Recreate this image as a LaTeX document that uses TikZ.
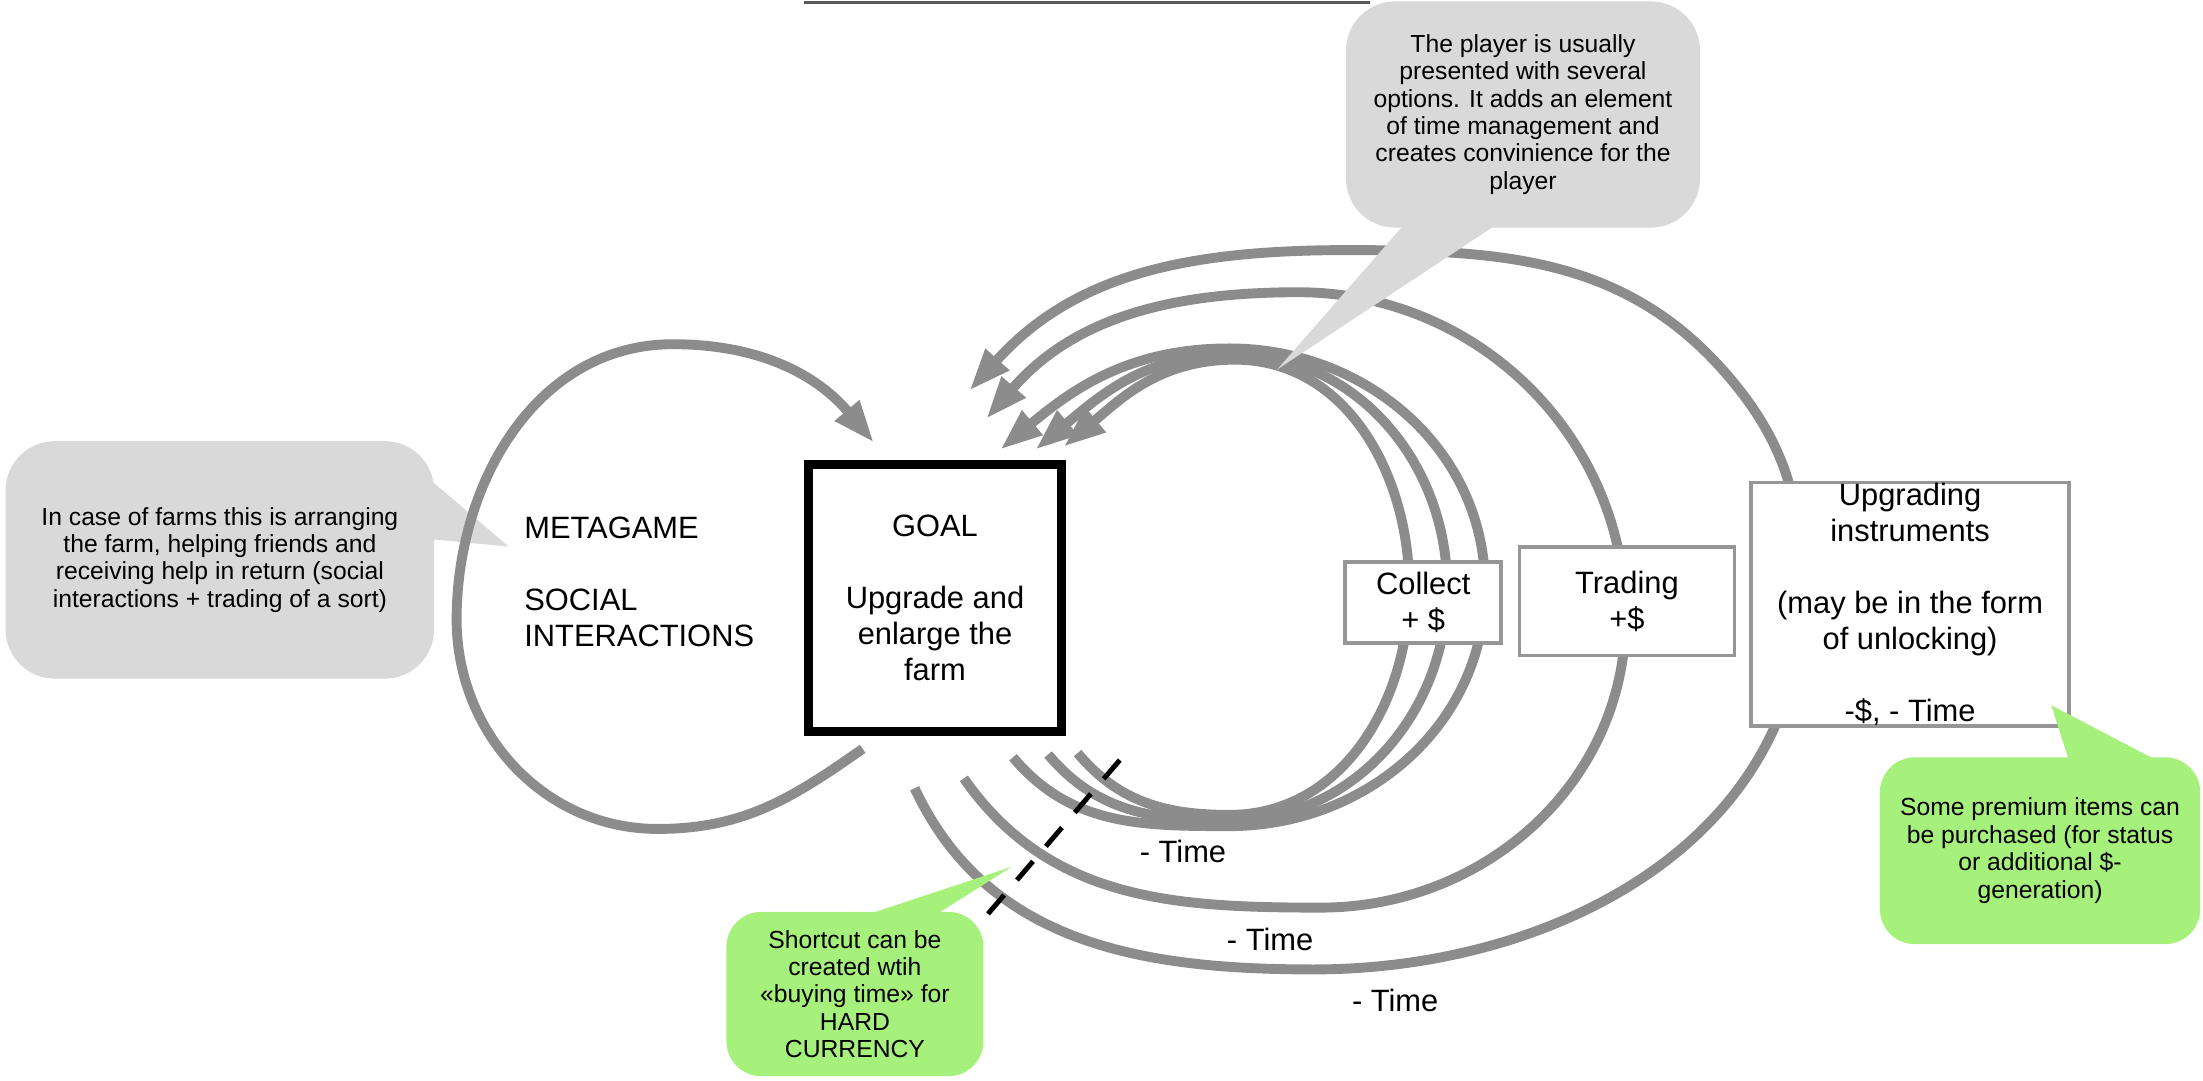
\documentclass[tikz,border=0pt]{standalone}
\usepackage{fontspec}
\setmainfont{Liberation Sans}
\usepackage{tikz}
\usetikzlibrary{arrows.meta}

\definecolor{LoopGray}{RGB}{140,140,140}
\definecolor{BoxGray}{RGB}{150,150,150}
\definecolor{NoteGray}{RGB}{217,217,217}
\definecolor{NoteGreen}{RGB}{166,240,124}
\newcommand{\LabelFont}{\fontsize{12.5}{14.6}\selectfont}
\newcommand{\NoteFont}{\fontsize{10}{11.1}\selectfont}

\begin{document}
\begin{tikzpicture}[x=0.2mm,y=0.2mm]
  \tikzset{BoxStyle/.style = {
    shape         = rectangle,
    draw          = BoxGray,
    fill          = white,
    line width    = 1.5pt,
    text          = black,
    inner sep     = 0pt,
    align         = center,
    font          = \LabelFont
    }
  }
  \tikzset{GoalStyle/.style = {
    BoxStyle,
    draw          = black,
    line width    = 3.8pt
    }
  }
  \tikzset{NoteStyle/.style = {
    shape           = rectangle,
    rounded corners = 7mm,
    fill            = NoteGray,
    text            = black,
    inner sep       = 0pt,
    align           = center,
    font            = \NoteFont
    }
  }
  \tikzset{NoteStyle2/.style = {
    NoteStyle,
    rounded corners = 5mm,
    fill            = NoteGreen
    }
  }
  \tikzset{LoopStyle/.style = {
    draw          = LoopGray,
    line width    = 4pt
    }
  }
  \tikzset{LoopStyleArrow/.style = {
    LoopStyle,
    -{Triangle[length=17pt,width=12pt]}
    }
  }
  \tikzset{CutStyle/.style = {
    draw          = black,
    line width    = 2pt,
    dash pattern  = on 10pt off 8pt
    }
  }

  \useasboundingbox (0,0) rectangle (1568,-769);

  % points of the loops
	\coordinate (m0) at (614,-533);
	\coordinate (m1) at (468,-590);
	\coordinate (m2) at (325,-441);
	\coordinate (m3) at (479,-245);
	\coordinate (m4) at (622,-315);
	\coordinate (c10) at (721,-539);
	\coordinate (c11) at (875,-588);
	\coordinate (c12) at (1057,-418);
	\coordinate (c13) at (875,-248);
	\coordinate (c14) at (712,-320);
	\coordinate (c20) at (746,-537);
	\coordinate (c21) at (875,-584);
	\coordinate (c22) at (1030,-418);
	\coordinate (c23) at (877,-252);
	\coordinate (c24) at (737,-320);
	\coordinate (c30) at (767,-536);
	\coordinate (c31) at (875,-580);
	\coordinate (c32) at (1003,-418);
	\coordinate (c33) at (879,-256);
	\coordinate (c34) at (757,-318);
	\coordinate (t0) at (686,-554);
	\coordinate (t1) at (940,-646);
	\coordinate (t2) at (1157,-440);
	\coordinate (t3) at (924,-208);
	\coordinate (t4) at (702,-298);
	\coordinate (u0) at (651,-561);
	\coordinate (u1) at (935,-690);
	\coordinate (u2) at (1283,-430);
	\coordinate (u3) at (1232,-270);
	\coordinate (u4) at (960,-178);
	\coordinate (u5) at (690,-278);

  % line at the top
	\coordinate (h0) at (572,-2);
	\coordinate (h1) at (975,-2);
	\draw[draw=black!65, line width=1.3pt](h0) -- (h1);

  % left note
	\node[NoteStyle, minimum width=61mm, minimum height=33.8mm](NoteL) at (156.5,-398.5) {In case of farms this is arranging\\the farm, helping friends and\\receiving help in return (social\\interactions + trading of a sort)};
	\coordinate (nl0) at (295,-332);
	\coordinate (nl1) at (298,-383);
	\coordinate (nl2) at (362,-389);
	\fill[NoteGray](nl0) -- (nl2) -- (nl1) -- cycle;

  % loops
	\draw[LoopStyleArrow](m0) to[out=215,in=0] (m1) to[out=180,in=-90] (m2) to[out=90,in=180] (m3) to[out=0,in=130] (m4);
	\draw[LoopStyleArrow](c10) to[out=-50,in=180] (c11) to[out=0,in=-90] (c12) to[out=90,in=0] (c13) to[out=180,in=40] (c14);
	\draw[LoopStyleArrow](c20) to[out=-50,in=180] (c21) to[out=0,in=-90] (c22) to[out=90,in=0] (c23) to[out=180,in=40] (c24);
	\draw[LoopStyleArrow](c30) to[out=-50,in=180] (c31) to[out=0,in=-90] (c32) to[out=90,in=0] (c33) to[out=180,in=40] (c34);
	\draw[LoopStyleArrow](t0) to[out=-55,in=180] (t1) to[out=0,in=-90] (t2) to[out=90,in=0] (t3) to[out=180,in=49] (t4);
	\draw[LoopStyleArrow](u0) to[out=-65,in=180] (u1) to[out=0,in=-92] (u2) to[out=90,in=-50] (u3) to[out=130,in=0] (u4) to[out=180,in=48] (u5);

  % boxes
	\node[GoalStyle, minimum width=36mm, minimum height=38mm](Goal1) at (665.5,-425.5) {GOAL\\[14.6pt]Upgrade and\\enlarge the\\farm};
	\node[BoxStyle, minimum width=22.2mm, minimum height=11.5mm](Coll1) at (1013,-429) {Collect\\+ \$};
	\node[BoxStyle, minimum width=30.6mm, minimum height=15.4mm](Trad1) at (1158,-428) {Trading\\+\$};
	\node[BoxStyle, minimum width=45.2mm, minimum height=34.6mm](Upgr1) at (1359.5,-430) {Upgrading\\instruments\\[14.6pt](may be in the form\\of unlocking)\\[14.6pt]-\$, - Time};
	\node[font=\LabelFont, align=left, anchor=west](Meta1) at (367,-414) {METAGAME\\[14.6pt]SOCIAL\\INTERACTIONS};

  % time labels
	\node[font=\LabelFont](Time1) at (842,-606) {- Time};
	\node[font=\LabelFont](Time2) at (904,-669) {- Time};
	\node[font=\LabelFont](Time3) at (993,-712) {- Time};

  % shortcut
	\coordinate (d0) at (797,-541);
	\coordinate (d1) at (701,-653);
	\draw[CutStyle](d0) -- (d1);

  % top note
	\node[NoteStyle, minimum width=50.4mm, minimum height=32.2mm](NoteT) at (1084,-81.5) {The player is usually\\presented with several\\options. It adds an element\\of time management and\\creates convinience for the\\player};
	\coordinate (nt0) at (1008,-150);
	\coordinate (nt1) at (1080,-150);
	\coordinate (nt2) at (909,-263);
	\fill[NoteGray](nt0) -- (nt2) -- (nt1) -- cycle;

  % green notes
	\node[NoteStyle2, minimum width=36.6mm, minimum height=23.4mm](NoteB) at (608.5,-707.5) {Shortcut can be\\created wtih\\«buying time» for\\HARD\\CURRENCY};
	\coordinate (nb0) at (596,-658);
	\coordinate (nb1) at (655,-658);
	\coordinate (nb2) at (720,-617);
	\fill[NoteGreen](nb0) -- (nb2) -- (nb1) -- cycle;
	\node[NoteStyle2, minimum width=45.6mm, minimum height=26.6mm](NoteR) at (1452,-605.5) {Some premium items can\\be purchased (for status\\or additional \$-\\generation)};
	\coordinate (nr0) at (1475,-549);
	\coordinate (nr1) at (1550,-549);
	\coordinate (nr2) at (1460,-502);
	\fill[NoteGreen](nr0) -- (nr2) -- (nr1) -- cycle;

  \end{tikzpicture}
\end{document}
